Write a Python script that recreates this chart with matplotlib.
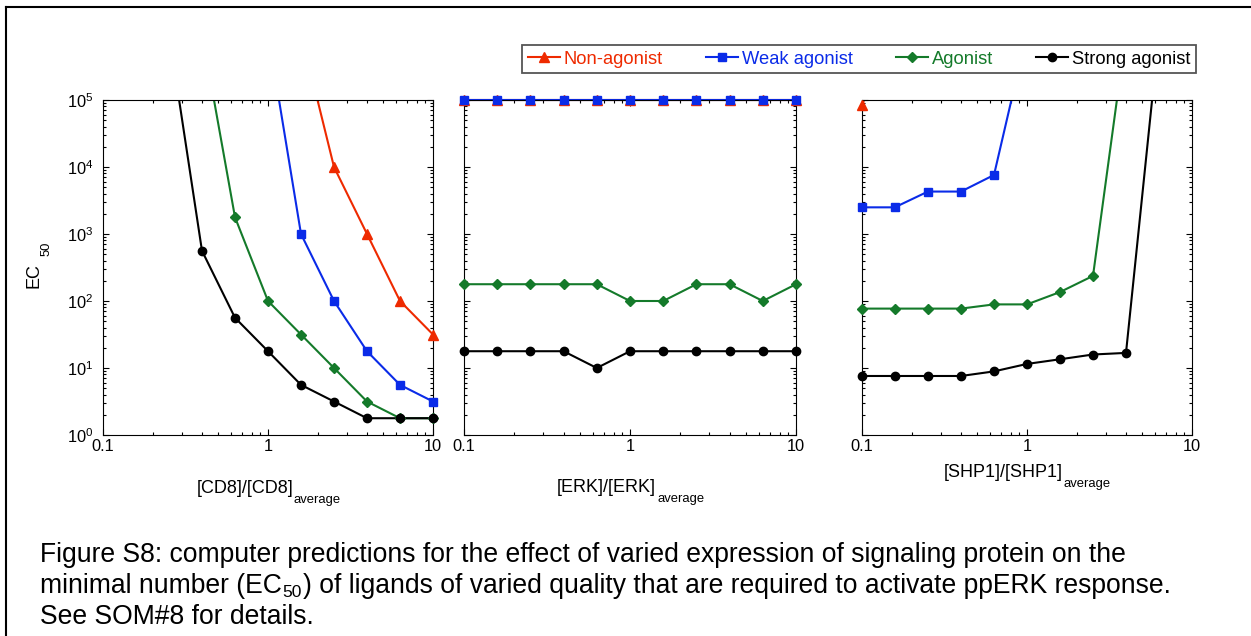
import numpy as np
import matplotlib
matplotlib.use('Agg')
import matplotlib.pyplot as plt
from matplotlib.lines import Line2D
from matplotlib.ticker import LogLocator, NullFormatter

plt.rcParams['font.family'] = ['Liberation Sans', 'DejaVu Sans']
plt.rcParams['mathtext.fontset'] = 'custom'
plt.rcParams['mathtext.rm'] = 'Liberation Sans'
plt.rcParams['mathtext.it'] = 'Liberation Sans:italic'
plt.rcParams['mathtext.bf'] = 'Liberation Sans:bold'

# protein level relative to average, same 11 points in every panel
level = [0.1, 0.158, 0.251, 0.398, 0.631, 1.0, 1.585, 2.512, 3.981, 6.31, 10.0]

names = ['Non-agonist', 'Weak agonist', 'Agonist', 'Strong agonist']
colors = ['#EE2A00', '#0A2BE8', '#147A2A', '#000000']
markers = ['^', 's', 'D', 'o']
msizes = [6.5, 6.2, 4.6, 6.0]

# EC50 values, 1e6 = no response (runs off the top of the plot)
cd8_non = [1e6, 1e6, 1e6, 1e6, 1e6, 1e6, 1e6, 1e4, 1000, 100, 31.6]
cd8_weak = [1e6, 1e6, 1e6, 1e6, 1e6, 1e6, 1000, 100, 17.8, 5.6, 3.16]
cd8_ago = [1e6, 1e6, 1e6, 1e6, 1778, 100, 31.6, 10, 3.16, 1.78, 1.78]
cd8_strong = [1e6, 1e6, 1e6, 562, 56.2, 17.8, 5.6, 3.16, 1.78, 1.78, 1.78]

erk_non = [1e5, 1e5, 1e5, 1e5, 1e5, 1e5, 1e5, 1e5, 1e5, 1e5, 1e5]
erk_weak = [1e5, 1e5, 1e5, 1e5, 1e5, 1e5, 1e5, 1e5, 1e5, 1e5, 1e5]
erk_ago = [178, 178, 178, 178, 178, 100, 100, 178, 178, 100, 178]
erk_strong = [17.8, 17.8, 17.8, 17.8, 10, 17.8, 17.8, 17.8, 17.8, 17.8, 17.8]

shp_non = [8.5e4, 1e6, 1e6, 1e6, 1e6, 1e6, 1e6, 1e6, 1e6, 1e6, 1e6]
shp_weak = [2500, 2500, 4300, 4300, 7600, 1e6, 1e6, 1e6, 1e6, 1e6, 1e6]
shp_ago = [77, 77, 77, 77, 89, 89, 136, 237, 1e6, 1e6, 1e6]
shp_strong = [7.6, 7.6, 7.6, 7.6, 8.9, 11.5, 13.5, 15.9, 16.8, 1e6, 1e6]

panels = [
    [cd8_non, cd8_weak, cd8_ago, cd8_strong],
    [erk_non, erk_weak, erk_ago, erk_strong],
    [shp_non, shp_weak, shp_ago, shp_strong],
]

W, H = 1251, 636
ymax = 1e5

fig = plt.figure(figsize=(W / 100, H / 100), dpi=100)

# axes boxes in pixels: left, top, right, bottom
boxes = [(103, 100, 433, 435), (464, 100, 796, 435), (862, 100, 1192, 435)]

axes = []
for i, (l, t, r, b) in enumerate(boxes):
    ax = fig.add_axes([l / W, 1 - b / H, (r - l) / W, (b - t) / H])
    for vals, col, mk, ms in zip(panels[i], colors, markers, msizes):
        y = np.array(vals, dtype=float)
        clip = y.max() > ymax * 1.001
        ax.plot(level, y, color=col, lw=1.5, zorder=2, clip_on=clip)
        shown = np.where(y <= ymax * 1.001, y, np.nan)
        ax.plot(level, shown, ls='none', marker=mk, ms=ms, color=col,
                mec=col, clip_on=False, zorder=3)
    ax.set_xscale('log')
    ax.set_yscale('log')
    ax.set_xlim(0.1, 10)
    ax.set_ylim(1, ymax)
    ax.set_xticks([0.1, 1, 10])
    ax.set_xticklabels(['0.1', '1', '10'])
    ax.xaxis.set_minor_locator(LogLocator(base=10, subs=np.arange(2, 10), numticks=50))
    ax.yaxis.set_minor_locator(LogLocator(base=10, subs=np.arange(2, 10), numticks=50))
    ax.xaxis.set_minor_formatter(NullFormatter())
    ax.yaxis.set_minor_formatter(NullFormatter())
    ax.tick_params(which='both', direction='in', top=True, right=True, width=0.8)
    ax.tick_params(which='major', length=4.5, labelsize=11.8)
    ax.tick_params(which='minor', length=2.5)
    ax.tick_params(axis='x', pad=3)
    ax.tick_params(axis='y', pad=7)
    if i > 0:
        ax.tick_params(labelleft=False)
    for s in ax.spines.values():
        s.set_linewidth(0.8)
    axes.append(ax)

# overlay in pixel coordinates for labels, caption and border
ov = fig.add_axes([0, 0, 1, 1], zorder=5)
ov.set_xlim(0, W)
ov.set_ylim(H, 0)
ov.set_axis_off()

ov.plot([6, 6], [7, H + 5], color='k', lw=1.5, clip_on=False)
ov.plot([6, W + 5], [7, 7], color='k', lw=1.5, clip_on=False)

lab_fs = 13
sub_fs = 9.4
xlabels = [('[CD8]/[CD8]', 293, 493), ('[ERK]/[ERK]', 656, 492), ('[SHP1]/[SHP1]', 1063, 477)]
for main, xe, yb in xlabels:
    ov.text(xe, yb, main, ha='right', va='baseline', fontsize=lab_fs)
    ov.text(xe + 1, yb + 10, 'average', ha='left', va='baseline', fontsize=sub_fs)

ov.text(39, 263, 'EC', rotation=90, rotation_mode='anchor', ha='right',
        va='baseline', fontsize=lab_fs)
ov.text(50, 256, '50', rotation=90, rotation_mode='anchor', ha='left',
        va='baseline', fontsize=sub_fs)

cap_fs = 19.1
ov.text(40, 562, 'Figure S8: computer predictions for the effect of varied expression '
        'of signaling protein on the', ha='left', va='baseline', fontsize=cap_fs)
t1 = ov.text(40, 593, 'minimal number (EC', ha='left', va='baseline', fontsize=cap_fs)
t2 = ov.annotate('50', xy=(1, 597), xycoords=(t1, 'data'), xytext=(0.5, 0),
                 textcoords='offset points', ha='left', va='baseline', fontsize=12.5)
ov.annotate(') of ligands of varied quality that are required to activate ppERK response.',
            xy=(1, 593), xycoords=(t2, 'data'), xytext=(0.5, 0),
            textcoords='offset points', ha='left', va='baseline', fontsize=cap_fs)
ov.text(40, 624, 'See SOM#8 for details.', ha='left', va='baseline', fontsize=cap_fs)

handles = [Line2D([], [], color=c, lw=1.5, marker=m, ms=s, mec=c)
           for c, m, s in zip(colors, markers, msizes)]
leg = fig.legend(handles, names, loc='upper left', bbox_to_anchor=(522 / W, 1 - 45 / H),
                 ncol=4, fontsize=13.2, frameon=True, fancybox=False, framealpha=1,
                 edgecolor='#555555', borderpad=0.3, borderaxespad=0,
                 handlelength=1.75, handletextpad=0.22, columnspacing=2.35,
                 labelcolor='linecolor', numpoints=1)
leg.get_frame().set_linewidth(1.3)

fig.savefig('out.png', dpi=100)
